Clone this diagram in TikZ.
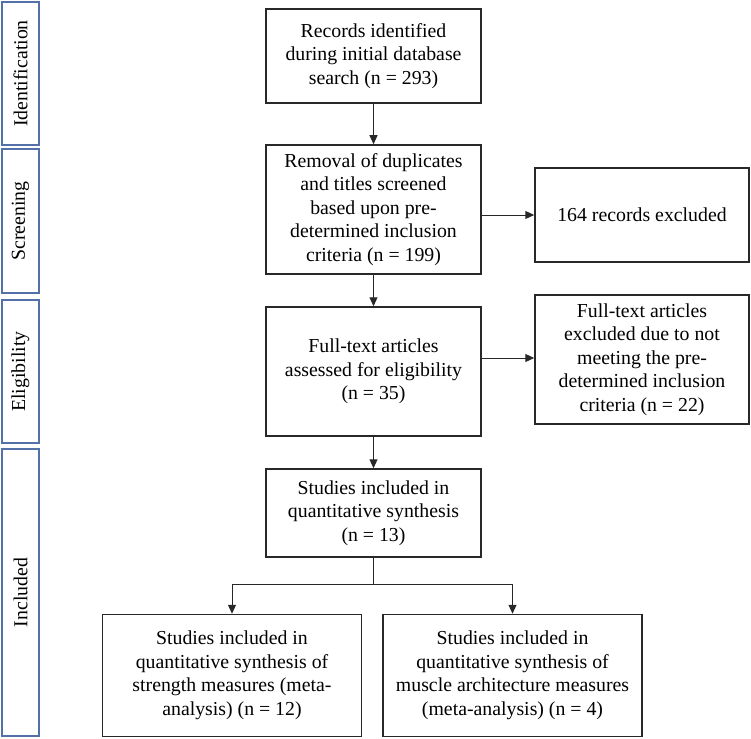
\documentclass[tikz,border=0pt]{standalone}
\usepackage{fontspec}
\setmainfont{Liberation Serif}
\usetikzlibrary{arrows.meta}
\definecolor{sideblue}{RGB}{84,112,168}
\definecolor{linegray}{RGB}{40,40,40}
\tikzset{
  box/.style={draw=linegray, line width=1.5pt, align=center, inner sep=0pt,
    font=\fontsize{19.8pt}{23.5pt}\selectfont},
  sidebox/.style={draw=sideblue, line width=1.5pt, rotate=90, inner sep=0pt,
    minimum height=37pt, font=\fontsize{19.8pt}{23.5pt}\selectfont},
  conn/.style={draw=linegray, line width=1pt},
  arr/.style={conn, -{Triangle[length=9pt,width=8pt]}}
}
\begin{document}
\begin{tikzpicture}[x=1pt,y=-1pt]
\useasboundingbox (0,0) rectangle (751,738);
% side labels
\node[sidebox, minimum width=143pt] (sid) at (20.5,73.5) {Identification};
\node[sidebox, minimum width=144pt] (sscr) at (20.5,221) {Screening};
\node[sidebox, minimum width=143pt] (selig) at (20.5,371.5) {Eligibility};
\node[sidebox, minimum width=287pt] (sinc) at (20.5,592.5) {Included};
% main column
\node[box, minimum width=215pt, minimum height=94pt] (b1) at (373.5,56)
  {Records identified\\during initial database\\search (n = 293)};
\node[box, minimum width=215pt, minimum height=129pt] (b2) at (373.5,209.5)
  {Removal of duplicates\\and titles screened\\based upon pre-\\determined inclusion\\criteria (n = 199)};
\node[box, minimum width=215pt, minimum height=129pt] (b3) at (373.5,371.5)
  {Full-text articles\\assessed for eligibility\\(n = 35)};
\node[box, minimum width=215pt, minimum height=88pt] (b4) at (373.5,513)
  {Studies included in\\quantitative synthesis\\(n = 13)};
% right column
\node[box, minimum width=214pt, minimum height=94pt] (r1) at (642,215)
  {164 records excluded};
\node[box, minimum width=214pt, minimum height=129pt] (r2) at (642,359.5)
  {Full-text articles\\excluded due to not\\meeting the pre-\\determined inclusion\\criteria (n = 22)};
% bottom
\node[box, minimum width=259pt, minimum height=122pt] (bl) at (232,675.5)
  {Studies included in\\quantitative synthesis of\\strength measures (meta-\\analysis) (n = 12)};
\node[box, minimum width=259pt, minimum height=122pt] (br) at (512.5,675.5)
  {Studies included in\\quantitative synthesis of\\muscle architecture measures\\(meta-analysis) (n = 4)};
% connectors
\draw[arr] (b1) -- (b2);
\draw[arr] (b2) -- (b3);
\draw[arr] (b3) -- (b4);
\draw[arr] (b2.east |- r1.west) -- (r1.west);
\draw[arr] (b3.east |- 358,358) -- (r2.west |- 358,358);
\coordinate (j) at (373.5,584);
\draw[conn] (b4.south) -- (j);
\draw[arr] (j) -| (bl.north);
\draw[arr] (j) -| (br.north);
\end{tikzpicture}
\end{document}
